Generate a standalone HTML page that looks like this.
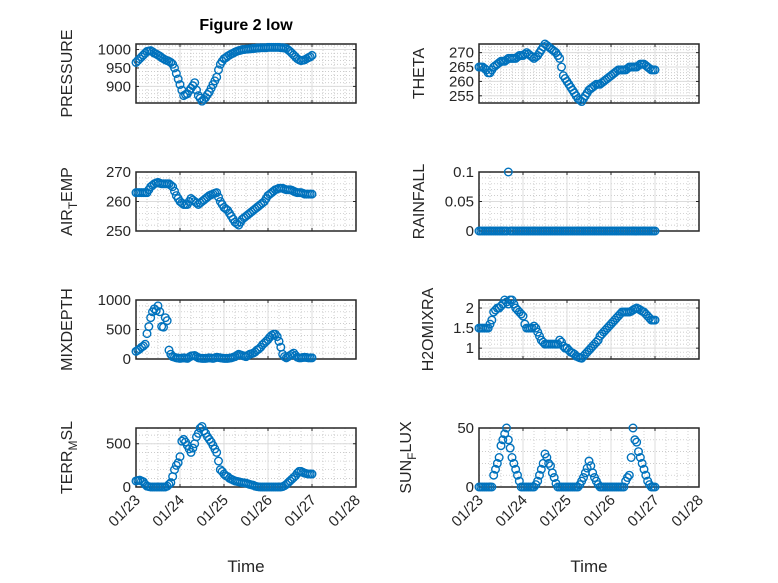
<!DOCTYPE html>
<html><head><meta charset="utf-8"><style>
html,body{margin:0;padding:0;background:#fff;}
svg{display:block;font-family:"Liberation Sans",sans-serif;}
</style></head><body>
<svg id="fig" width="778" height="583" viewBox="0 0 778 583"></svg>
<script>
// ---- data: hourly samples from 01/23 00:00 (index = hour) ----
const pressure = [965,970,975,980,985,990,995,996,997,994,990,988,
 985,982,978,975,972,970,968,965,960,950,935,920,
 905,890,875,878,880,888,895,902,910,890,875,868,
 860,865,870,878,885,895,905,915,925,945,960,968,
 975,978,982,985,988,990,993,995,997,998,1000,1000,
 1001,1001,1002,1002,1003,1003,1004,1004,1005,1005,1005,1005,
 1006,1006,1006,1006,1006,1006,1006,1005,1005,1004,1003,999,
 995,990,985,980,975,972,970,971,972,975,978,980,984];
const theta = [265,265,265,264.5,264,263,263,264,265,265.5,266,266.5,
 267,267,267,267.5,268,268,268,268,268,268.5,269,269,
 269,269.5,270,269.5,269,268.5,268,268.5,269,270,271,272,
 273,272.5,272,271.5,271,270.5,270,269,268,265,262,261,
 260,259,258,257,256,255,254,253.5,253,254,255,256,
 257,257.5,258,258.5,259,259,259,259.5,260,260.5,261,261.5,
 262,262.5,263,263.5,264,264,264,264,264,264.5,265,265,
 265,265,265,265.5,266,266,266,265.5,265,264.5,264,264,264];
const airTemp = [263,263,263,263,263,263,263,264,265,265.5,266,266.3,
 266.5,266.2,266,266,266,266,266,265.5,265,263.5,262,261,
 260,259.5,259,259,259,260,261,260.5,260,259.5,259,259.5,
 260,260.5,261,261.5,262,262.3,262.5,262.8,263,261.5,260,259,
 258,257.5,257,256,255,254,253,252.5,252,253,254,254.5,
 255,255.5,256,256.5,257,257.5,258,258.5,259,259.5,260,261,
 262,262.5,263,263.5,264,264.2,264.5,264.5,264.5,264.2,264,264,
 264,263.8,263.5,263.2,263,263,263,262.8,262.5,262.5,262.5,262.5,262.5];
const rainfall = [0,0,0,0,0,0,0,0,0,0,0,0,
 0,0,0,0,0.1,0,0,0,0,0,0,0,
 0,0,0,0,0,0,0,0,0,0,0,0,
 0,0,0,0,0,0,0,0,0,0,0,0,
 0,0,0,0,0,0,0,0,0,0,0,0,
 0,0,0,0,0,0,0,0,0,0,0,0,
 0,0,0,0,0,0,0,0,0,0,0,0,
 0,0,0,0,0,0,0,0,0,0,0,0,0];
const mixDepth = [130,150,170,200,220,250,430,550,700,800,850,820,
 900,800,550,540,700,650,150,80,40,30,20,15,
 10,15,20,15,10,30,50,55,60,40,20,15,
 10,10,10,15,20,15,10,20,30,25,20,15,
 10,10,10,15,20,30,40,60,80,70,60,50,
 40,60,80,90,100,120,150,170,200,240,270,300,
 330,370,400,420,420,380,300,200,80,40,20,40,
 60,80,100,60,30,20,20,25,30,25,20,20,20];
const h2oMix = [1.5,1.5,1.5,1.5,1.5,1.5,1.6,1.7,1.9,1.95,2.0,2.0,
 2.05,2.1,2.2,2.15,2.1,2.2,2.2,2.1,2.0,1.95,1.9,1.85,
 1.8,1.6,1.5,1.5,1.5,1.5,1.55,1.5,1.4,1.3,1.2,1.15,
 1.1,1.1,1.1,1.1,1.1,1.1,1.1,1.1,1.2,1.15,1.05,1.0,
 1.0,0.95,0.9,0.88,0.85,0.8,0.78,0.76,0.75,0.8,0.85,0.9,
 0.95,1.0,1.05,1.1,1.15,1.2,1.3,1.35,1.4,1.45,1.5,1.55,
 1.6,1.65,1.7,1.75,1.8,1.85,1.9,1.9,1.9,1.9,1.9,1.92,
 1.95,1.98,2.0,1.98,1.95,1.92,1.9,1.85,1.8,1.75,1.7,1.7,1.7];
const terrMsl = [70,75,80,70,60,30,10,5,0,0,0,0,
 0,0,0,0,0,10,30,50,120,200,250,280,
 350,530,550,520,480,440,400,450,500,580,620,680,
 700,650,620,580,550,520,480,440,400,300,200,180,
 150,130,120,100,90,80,70,65,60,55,50,48,
 45,38,30,25,20,10,5,2,0,0,0,0,
 0,0,0,0,0,0,0,0,5,15,30,50,
 70,90,110,130,160,180,180,170,160,155,150,150,150];
const sunFlux = [0,0,0,0,0,0,0,0,10,15,20,25,
 35,40,45,50,40,33,25,20,15,10,5,0,
 0,0,0,0,0,0,0,2,5,10,15,20,
 28,25,20,18,12,8,3,0,0,0,0,0,
 0,0,0,0,0,0,0,2,5,8,12,16,
 22,18,12,8,5,2,0,0,0,0,0,0,
 0,0,0,0,0,0,0,0,5,8,10,25,
 50,40,38,30,25,20,15,10,5,2,0,0,0];
const xTickLabels = ["01/23","01/24","01/25","01/26","01/27","01/28"];
const pressureTicks = [900,950,1000];
const thetaTicks = [255,260,265,270];
const airTicks = [250,260,270];
const rainTicks = [0,0.05,0.1];
const mixTicks = [0,500,1000];
const h2oTicks = [1,1.5,2];
const terrTicks = [0,500];
const sunTicks = [0,50];

const NS="http://www.w3.org/2000/svg";
const svg=document.getElementById('fig');
function mk(tag,attrs,parent){const e=document.createElementNS(NS,tag);for(const k in attrs)e.setAttribute(k,attrs[k]);(parent||svg).appendChild(e);return e;}

const cols=[136,479], W=220, tops=[44,172,300,428], H=59;
const panels=[
 {c:0,r:0,name:'pressure',vals:pressure,ymin:855,ymax:1015,ticks:pressureTicks,minor:10,lab:['PRESSURE'],lx:72},
 {c:1,r:0,name:'theta',vals:theta,ymin:252.5,ymax:273,ticks:thetaTicks,minor:1,lab:['THETA'],lx:424},
 {c:0,r:1,name:'air-temp',vals:airTemp,ymin:250,ymax:270,ticks:airTicks,minor:2,lab:['AIR','T','EMP'],lx:72},
 {c:1,r:1,name:'rainfall',vals:rainfall,ymin:0,ymax:0.1,ticks:rainTicks,minor:0.01,lab:['RAINFALL'],lx:424},
 {c:0,r:2,name:'mixdepth',vals:mixDepth,ymin:0,ymax:1000,ticks:mixTicks,minor:100,lab:['MIXDEPTH'],lx:72},
 {c:1,r:2,name:'h2omixra',vals:h2oMix,ymin:0.73,ymax:2.2,ticks:h2oTicks,minor:0.1,lab:['H2OMIXRA'],lx:433},
 {c:0,r:3,name:'terr-msl',vals:terrMsl,ymin:0,ymax:682,ticks:terrTicks,minor:100,lab:['TERR','M','SL'],lx:72},
 {c:1,r:3,name:'sun-flux',vals:sunFlux,ymin:0,ymax:50,ticks:sunTicks,minor:10,lab:['SUN','F','LUX'],lx:411}
];

panels.forEach(p=>{
  const x0=cols[p.c], y0=tops[p.r];
  const g=mk('g',{});
  
  
  const xs=d=>x0+d/5*W;
  const ys=v=>y0+H-(v-p.ymin)/(p.ymax-p.ymin)*H;
  for(let d=0.25; d<5; d+=0.25){ if(Math.abs(d-Math.round(d))<1e-6) continue;
    mk('line',{x1:xs(d),x2:xs(d),y1:y0,y2:y0+H,stroke:'#bbb','stroke-width':0.7,'stroke-dasharray':'1 2'},g);}
  const m0=Math.ceil(p.ymin/p.minor)*p.minor;
  for(let v=m0; v<p.ymax; v+=p.minor){
    mk('line',{x1:x0,x2:x0+W,y1:ys(v),y2:ys(v),stroke:'#bbb','stroke-width':0.7,'stroke-dasharray':'1 2'},g);}
  for(let d=1; d<5; d++) mk('line',{x1:xs(d),x2:xs(d),y1:y0,y2:y0+H,stroke:'#dcdcdc','stroke-width':1},g);
  p.ticks.forEach(v=>{
    mk('line',{x1:x0,x2:x0+W,y1:ys(v),y2:ys(v),stroke:'#dcdcdc','stroke-width':1},g);
    mk('line',{x1:x0,x2:x0+3,y1:ys(v),y2:ys(v),stroke:'#262626','stroke-width':1},g);
    mk('line',{x1:x0+W-3,x2:x0+W,y1:ys(v),y2:ys(v),stroke:'#262626','stroke-width':1},g);
    const t=mk('text',{x:x0-5,y:ys(v)+5,'text-anchor':'end','font-size':15,fill:'#262626'},g);
    t.textContent=String(v);
    
    
  });
  for(let d=0; d<=5; d++){
    mk('line',{x1:xs(d),x2:xs(d),y1:y0,y2:y0+3,stroke:'#262626','stroke-width':1},g);
    mk('line',{x1:xs(d),x2:xs(d),y1:y0+H-3,y2:y0+H,stroke:'#262626','stroke-width':1},g);
  }
  const b=mk('rect',{x:x0,y:y0,width:W,height:H,fill:'none',stroke:'#262626','stroke-width':1.5},g);
  
  
  p.vals.forEach((v,i)=>{
    const c=mk('circle',{cx:xs(i/24),cy:ys(v),r:3.8,fill:'none',stroke:'#0072BD','stroke-width':1.4},g);
    
    
  });
  const cy=y0+H/2;
  const t=mk('text',{x:p.lx,y:cy,'text-anchor':'middle','font-size':16,fill:'#262626',transform:`rotate(-90 ${p.lx} ${cy})`},g);
  
  
  if(p.lab.length===1){t.textContent=p.lab[0];}
  else{
    const a=mk('tspan',{},t);a.textContent=p.lab[0];
    const s=mk('tspan',{'font-size':12,dy:5},t);s.textContent=p.lab[1];
    const e=mk('tspan',{dy:-5},t);e.textContent=p.lab[2];
  }
  if(p.r===3){
    xTickLabels.forEach((lab,d)=>{
      const tx=xs(d)+5, ty=y0+H+14;
      const tt=mk('text',{x:tx,y:ty,'text-anchor':'end','font-size':15,fill:'#262626',transform:`rotate(-45 ${tx} ${ty})`},g);
      tt.textContent=lab;
      
      
    });
    const xl=mk('text',{x:x0+W/2,y:572,'text-anchor':'middle','font-size':17,fill:'#262626'},g);
    xl.textContent='Time';
    
    
  }
});
const title=mk('text',{x:246,y:30,'text-anchor':'middle','font-size':16,'font-weight':'bold',fill:'#000'});
title.textContent='Figure 2 low';


</script>
</body></html>
